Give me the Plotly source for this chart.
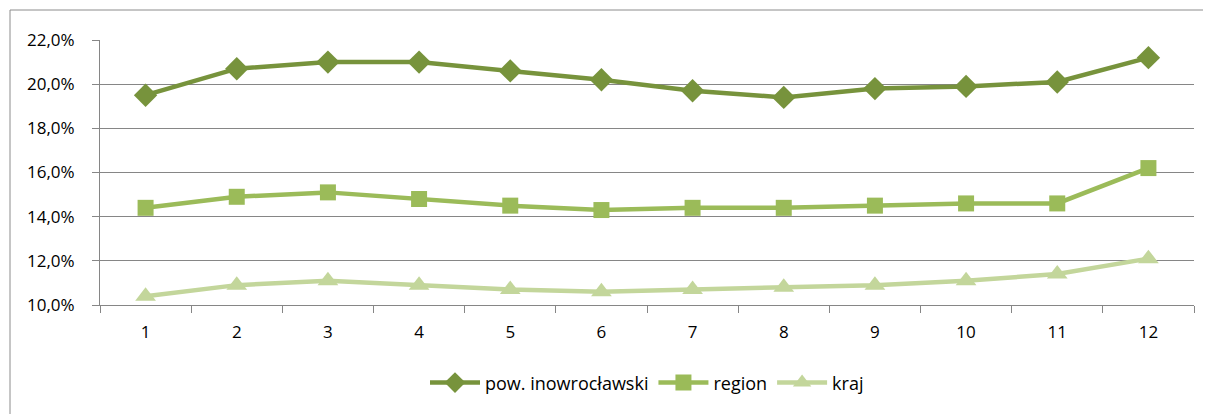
import plotly.graph_objects as go

categories = ["1", "2", "3", "4", "5", "6", "7", "8", "9", "10", "11", "12"]
pow_inow = [19.5, 20.7, 21.0, 21.0, 20.6, 20.2, 19.7, 19.4, 19.8, 19.9, 20.1, 21.2]
region = [14.4, 14.9, 15.1, 14.8, 14.5, 14.3, 14.4, 14.4, 14.5, 14.6, 14.6, 16.2]
kraj = [10.4, 10.9, 11.1, 10.9, 10.7, 10.6, 10.7, 10.8, 10.9, 11.1, 11.4, 12.1]
y_ticks = [10, 12, 14, 16, 18, 20, 22]
y_tick_labels = ["10,0%", "12,0%", "14,0%", "16,0%", "18,0%", "20,0%", "22,0%"]

series = [
    ("pow. inowrocławski", pow_inow, "#77933C", "diamond", 18),
    ("region", region, "#9BBB59", "square", 16),
    ("kraj", kraj, "#C3D69B", "triangle-up", 18),
]

fig = go.Figure()
for name, vals, color, sym, size in series:
    fig.add_trace(go.Scatter(
        x=categories, y=vals, name=name, mode="lines+markers",
        line=dict(color=color, width=4.5),
        marker=dict(symbol=sym, size=size, color=color),
    ))

fig.update_layout(
    width=1211, height=414,
    margin=dict(l=92, r=25, t=32, b=117),
    paper_bgcolor="white", plot_bgcolor="white",
    font=dict(family="Open Sans, Liberation Sans, sans-serif", size=17, color="#000000"),
    showlegend=True,
    legend=dict(orientation="h", x=0.5, xanchor="center", y=-0.294, yanchor="middle",
                font=dict(size=18), itemwidth=50),
    xaxis=dict(type="category", range=[-0.5, 11.5], showgrid=False,
               showline=True, linecolor="#868686", linewidth=1,
               ticks="outside", tickson="boundaries", ticklen=7, tickcolor="#868686",
               tickfont=dict(size=17), ticklabelstandoff=12),
    yaxis=dict(range=[10, 22], tickvals=y_ticks, ticktext=y_tick_labels,
               showgrid=True, gridcolor="#868686", gridwidth=1,
               showline=True, linecolor="#868686", linewidth=1,
               ticks="outside", ticklen=7, tickcolor="#868686", zeroline=False,
               tickfont=dict(size=17), ticklabelstandoff=14),
    shapes=[dict(type="rect", xref="paper", yref="paper",
                 x0=-90/1094, x1=1.05, y0=-0.45, y1=(305-10)/265,
                 line=dict(color="#8c8c8c", width=1), fillcolor="rgba(0,0,0,0)", layer="below")],
)

fig.write_html("out.html")
